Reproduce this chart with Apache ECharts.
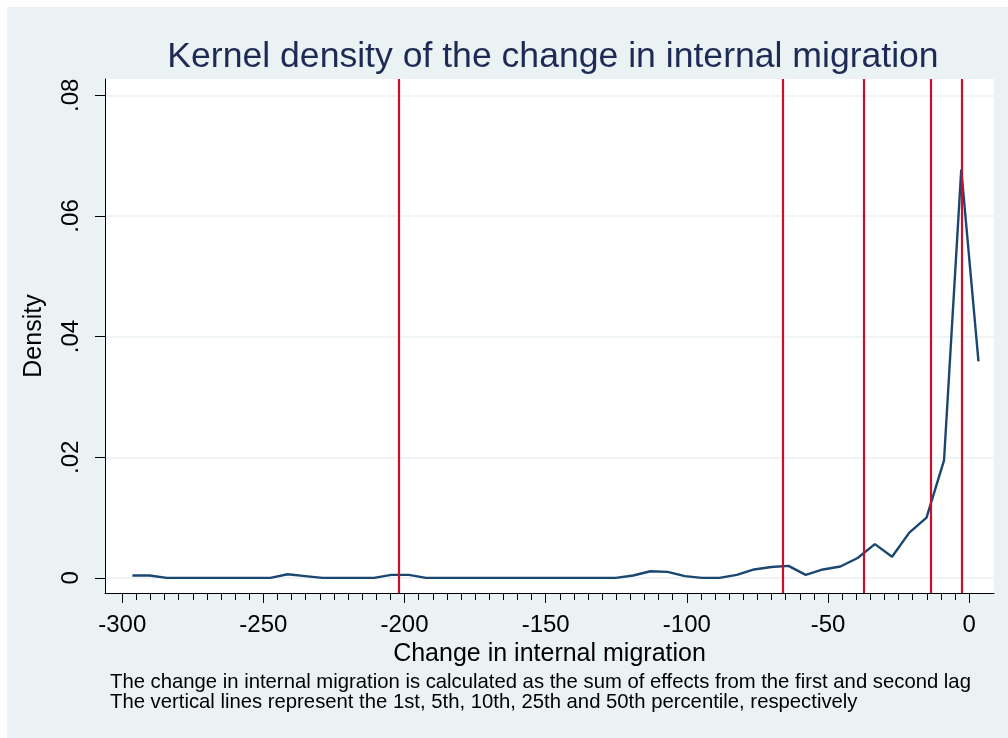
<!DOCTYPE html>
<html>
<head>
<meta charset="utf-8">
<script src="https://cdn.jsdelivr.net/npm/echarts@6/dist/echarts.min.js"></script>
<style>
  html, body { margin: 0; padding: 0; background: #fff; }
  #chart { position: absolute; left: 7px; top: 7px; width: 1001px; height: 731px; }
</style>
</head>
<body>
<div id="chart"></div>
<script>
// kernel density estimate, evaluated at 50 points
const densityX = [
  -296.4, -290.3, -284.2, -278.1, -271.9, -265.8, -259.7, -253.6, -247.5, -241.4,
  -235.2, -229.1, -223.0, -216.9, -210.8, -204.7, -198.5, -192.4, -186.3, -180.2,
  -174.1, -168.0, -161.9, -155.7, -149.6, -143.5, -137.4, -131.3, -125.2, -119.0,
  -112.9, -106.8, -100.7, -94.6, -88.5, -82.3, -76.2, -70.1, -64.0, -57.9,
  -51.8, -45.6, -39.5, -33.4, -27.3, -21.2, -15.1, -8.9, -2.8, 3.3
];
const densityY = [
  0.0004, 0.0004, 0, 0, 0, 0, 0, 0, 0, 0.0006,
  0.0003, 0, 0, 0, 0, 0.0005, 0.0005, 0, 0, 0,
  0, 0, 0, 0, 0, 0, 0, 0, 0, 0.0004,
  0.0011, 0.001, 0.0003, 0, 0, 0.0005, 0.0014, 0.0018, 0.002, 0.0005,
  0.0014, 0.0019, 0.0033, 0.0056, 0.0035, 0.0075, 0.01, 0.0195, 0.0677, 0.0359
];
// 1st, 5th, 10th, 25th and 50th percentile
const percentiles = [-202.1, -66.2, -37.4, -13.6, -2.7];

const xTicks = [-300, -250, -200, -150, -100, -50, 0];
const yTicks = [0, 0.02, 0.04, 0.06, 0.08];
const notes = [
  "The change in internal migration is calculated as the sum of effects from the first and second lag",
  "The vertical lines represent the 1st, 5th, 10th, 25th and 50th percentile, respectively"
];

const xMinor = [];
for (let v = -300; v <= 0; v += 5) xMinor.push(v);

const xRange = { min: -306.1, max: 8.8 };
const yRange = { min: -0.0025, max: 0.0827 };
const font = "Liberation Sans, Arial, sans-serif";

const chart = echarts.init(document.getElementById("chart"));

const option = {
  backgroundColor: "#EAF2F3",
  animation: false,
  title: {
    text: "Kernel density of the change in internal migration",
    left: 541,
    top: 27,
    textAlign: "center",
    textStyle: {
      fontFamily: font,
      fontSize: 35.6,
      fontWeight: "normal",
      color: "#1C2A55",
    },
  },
  grid: {
    left: 98,
    right: 14,
    top: 72,
    bottom: 145,
    show: true,
    backgroundColor: "#fff",
    borderWidth: 0,
  },
  xAxis: [
    {
      type: "value",
      min: xRange.min,
      max: xRange.max,
      position: "bottom",
      name: "Change in internal migration",
      nameLocation: "middle",
      nameGap: 42,
      nameTextStyle: { fontFamily: font, fontSize: 25, color: "#000" },
      axisLine: { show: true, onZero: false, lineStyle: { color: "#000", width: 1 } },
      axisTick: { show: true, length: 10, customValues: xTicks, lineStyle: { color: "#000" } },
      axisLabel: {
        customValues: xTicks,
        margin: 20,
        fontFamily: font,
        fontSize: 24,
        color: "#000",
      },
      splitLine: { show: false },
    },
    {
      type: "value",
      min: xRange.min,
      max: xRange.max,
      position: "bottom",
      axisLine: { show: false, onZero: false },
      axisTick: { show: true, length: 7, customValues: xMinor, lineStyle: { color: "#000" } },
      axisLabel: { show: false },
      splitLine: { show: false },
    },
  ],
  yAxis: {
    type: "value",
    min: yRange.min,
    max: yRange.max,
    name: "Density",
    nameLocation: "middle",
    nameGap: 58,
    nameTextStyle: { fontFamily: font, fontSize: 25, color: "#000" },
    axisLine: { show: true, onZero: false, lineStyle: { color: "#000", width: 1 } },
    axisTick: { show: true, length: 10, customValues: yTicks, lineStyle: { color: "#000" } },
    axisLabel: {
      customValues: yTicks,
      rotate: 90,
      margin: 22,
      fontFamily: font,
      fontSize: 24,
      color: "#000",
      formatter: (v) => (v === 0 ? "0" : String(Number(v.toFixed(2))).replace(/^0/, "")),
    },
    splitLine: { show: true, lineStyle: { color: "#EAF2F3", width: 1.5 } },
  },
  graphic: [
    {
      type: "text",
      left: 103,
      top: 665,
      style: {
        text: notes.join("\n"),
        font: "20.3px " + font,
        lineHeight: 20,
        fill: "#000",
      },
    },
  ],
  series: [
    {
      type: "line",
      xAxisIndex: 0,
      data: densityX.map((x, i) => [x, densityY[i]]),
      symbol: "none",
      lineStyle: { color: "#1A476F", width: 2.4 },
      z: 3,
      markLine: {
        silent: true,
        symbol: "none",
        label: { show: false },
        lineStyle: { color: "#C8102E", width: 2.2, type: "solid" },
        data: percentiles.map((p) => ({ xAxis: p })),
      },
    },
  ],
};

chart.setOption(option);
</script>
</body>
</html>
